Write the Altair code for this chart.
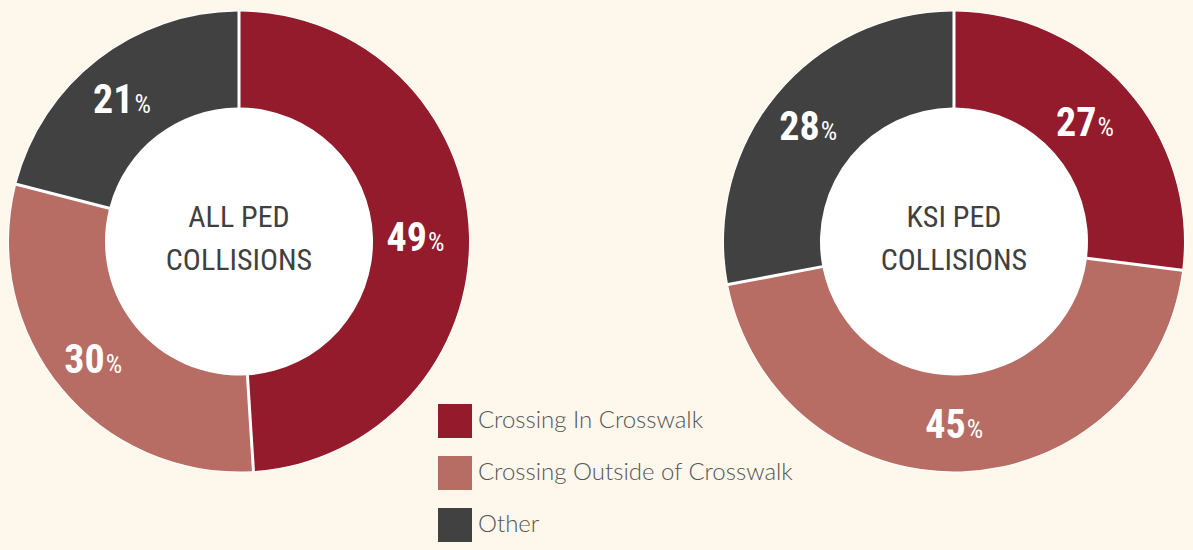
import altair as alt
import pandas as pd

# ---- data ----
charts = ["ALL", "ALL", "ALL", "KSI", "KSI", "KSI"]
categories = ["Crossing In Crosswalk", "Crossing Outside of Crosswalk", "Other"] * 2
values = [49, 30, 21, 27, 45, 28]
orders = [1, 2, 3, 1, 2, 3]

center_charts = ["ALL", "KSI"]
center_titles = ["ALL PED\nCOLLISIONS", "KSI PED\nCOLLISIONS"]

cat_domain = ["Crossing In Crosswalk", "Crossing Outside of Crosswalk", "Other"]
cat_colors = ["#931B2B", "#B76D64", "#414141"]

df = pd.DataFrame({"chart": charts, "category": categories, "value": values, "order": orders})
df_center = pd.DataFrame({"chart": center_charts, "title": center_titles})

BG = "#FEF7EC"
NARROW = "Roboto Condensed, Liberation Sans Narrow, Roboto, sans-serif"

x_enc = alt.X("chart:N", axis=None,
              scale=alt.Scale(type="point", padding=0.3231, domain=["ALL", "KSI"]))
theta_scale = alt.Scale(domain=[0, 100])

base = alt.Chart(df).transform_window(
    cum="sum(value)", groupby=["chart"], sort=[alt.SortField("order")], frame=[None, 0]
).transform_calculate(
    start="datum.cum - datum.value",
    mid="datum.cum - datum.value / 2",
    label="'' + datum.value",
)

# white disc behind each donut: gives the white gaps between slices and the thin outer rim
backing = alt.Chart(df_center).mark_circle(size=462 * 462, color="white", opacity=1).encode(x=x_enc)

arcs = base.mark_arc(outerRadius=230, innerRadius=134, padAngle=0.0113).encode(
    x=x_enc,
    theta=alt.Theta("start:Q", stack=None, scale=theta_scale),
    theta2=alt.Theta2("cum:Q"),
    color=alt.Color(
        "category:N",
        scale=alt.Scale(domain=cat_domain, range=cat_colors),
        legend=alt.Legend(
            title=None,
            orient="none",
            legendX=430,
            legendY=396,
            symbolType="square",
            symbolSize=1156,
            symbolStrokeWidth=0,
            symbolOpacity=1,
            labelFont="Lato, Open Sans, sans-serif",
            labelFontWeight=300,
            labelFontSize=24,
            labelColor="#555555",
            labelOffset=6,
            rowPadding=18,
            labelLimit=400,
        ),
    ),
)

center_text = alt.Chart(df_center).mark_text(
    font=NARROW, fontSize=30, color="#404040", lineBreak="\n", lineHeight=43,
    baseline="middle", align="center", dy=-24,
).encode(x=x_enc, text="title:N")

num_text = base.mark_text(
    radius=182, font=NARROW, fontWeight="bold", fontSize=40, color="white",
    align="right", baseline="alphabetic", dx=6, dy=15,
).encode(
    x=x_enc,
    theta=alt.Theta("mid:Q", stack=None, scale=theta_scale),
    text="label:N",
)

pct_text = base.mark_text(
    radius=182, font=NARROW, fontSize=26, color="white",
    align="left", baseline="alphabetic", dx=7, dy=15,
).encode(
    x=x_enc,
    theta=alt.Theta("mid:Q", stack=None, scale=theta_scale),
    text=alt.value("%"),
)

chart = alt.layer(backing, arcs, center_text, num_text, pct_text).properties(
    width=1177, height=467, padding=0, background=BG
).configure_view(stroke=None)

_h = None
_orig = None
try:
    from altair.utils import html as _h
    _orig = _h.TEMPLATES["standard"]

    class _BgTemplate:
        def render(self, *a, **kw):
            out = _orig.render(*a, **kw)
            return out.replace("<style>", "<style>\n    body { background: #FEF7EC; }", 1)

    _h.TEMPLATES["standard"] = _BgTemplate()
    chart.save("out.html", embed_options={"renderer": "svg", "actions": False})
except Exception:
    if _h is not None and _orig is not None:
        _h.TEMPLATES["standard"] = _orig
    chart.save("out.html", embed_options={"renderer": "svg", "actions": False})
